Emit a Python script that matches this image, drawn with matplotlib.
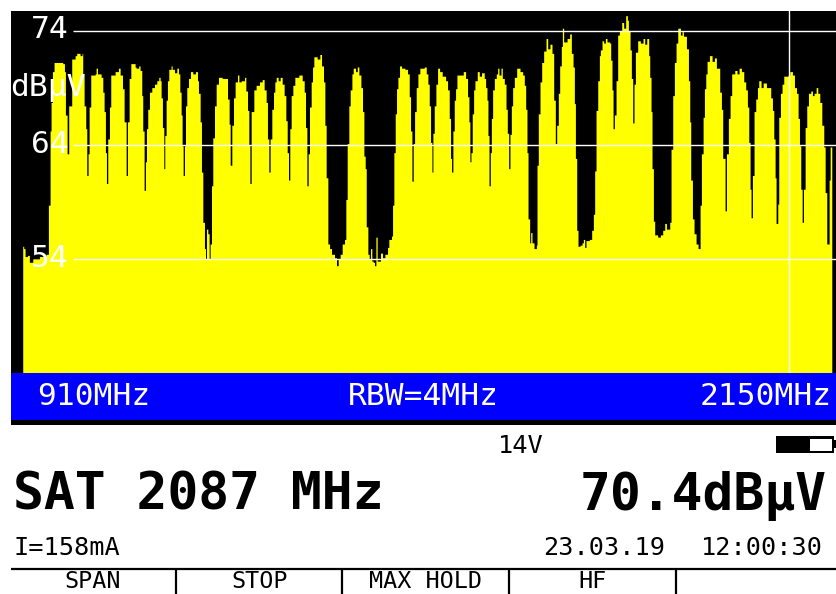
import matplotlib
matplotlib.use('Agg')
import matplotlib.pyplot as plt
from matplotlib.patches import Rectangle

# spectrum trace: MHz and dBuV
freq_mhz = [
    910.3, 911.8, 913.9, 917.5, 920.5, 925.7, 935.9, 946.1, 949.7, 952.3,
    953.8, 955.9, 958.4, 971.7, 974.3, 975.8, 978.4, 980.9, 985.5, 990.7,
    993.2, 998.3, 1001.4, 1002.4, 1004.5, 1007.0, 1008.6, 1010.6, 1012.2, 1014.7,
    1021.4, 1022.9, 1025.0, 1030.6, 1033.2, 1035.2, 1037.2, 1038.8, 1040.8, 1043.4,
    1045.4, 1052.1, 1057.2, 1059.8, 1063.4, 1065.9, 1069.0, 1071.0, 1073.6, 1076.2,
    1082.8, 1084.3, 1088.4, 1090.4, 1093.0, 1094.5, 1096.6, 1098.6, 1100.2, 1102.2,
    1104.8, 1108.4, 1112.5, 1116.0, 1119.1, 1121.2, 1122.7, 1124.7, 1126.8, 1128.3,
    1130.4, 1132.4, 1134.5, 1138.0, 1139.6, 1143.2, 1146.8, 1149.3, 1151.4, 1153.4,
    1154.9, 1156.5, 1158.5, 1160.1, 1162.1, 1164.7, 1167.7, 1171.3, 1175.4, 1178.5,
    1180.0, 1182.6, 1184.6, 1186.7, 1189.2, 1190.8, 1192.3, 1194.4, 1196.4, 1197.9,
    1200.0, 1202.0, 1204.6, 1207.2, 1210.7, 1216.4, 1221.5, 1224.6, 1227.1, 1228.7,
    1231.2, 1233.8, 1236.3, 1239.9, 1242.0, 1245.6, 1250.7, 1252.7, 1255.3, 1257.3,
    1258.9, 1260.9, 1265.0, 1268.5, 1273.7, 1277.8, 1280.8, 1283.9, 1285.9, 1288.0,
    1290.0, 1292.6, 1295.2, 1297.2, 1299.3, 1302.3, 1305.4, 1308.5, 1311.5, 1314.1,
    1316.2, 1318.2, 1320.2, 1322.3, 1324.9, 1327.9, 1334.1, 1339.2, 1342.3, 1344.3,
    1346.4, 1348.4, 1350.4, 1353.0, 1355.1, 1357.1, 1362.2, 1366.3, 1368.9, 1371.9,
    1374.0, 1376.0, 1378.6, 1381.2, 1384.2, 1388.8, 1391.9, 1394.5, 1397.5, 1400.6,
    1404.2, 1406.2, 1408.3, 1410.8, 1412.9, 1415.5, 1417.5, 1421.1, 1423.7, 1426.2,
    1429.3, 1431.8, 1433.9, 1435.9, 1437.5, 1440.0, 1442.0, 1444.1, 1446.1, 1448.2,
    1450.2, 1452.3, 1454.3, 1456.4, 1459.4, 1462.5, 1466.1, 1470.2, 1472.2, 1476.3,
    1477.9, 1479.9, 1482.0, 1484.0, 1486.1, 1488.6, 1491.7, 1496.8, 1500.9, 1503.5,
    1505.5, 1507.6, 1509.6, 1511.7, 1514.2, 1516.8, 1519.8, 1526.5, 1529.6, 1532.1,
    1534.2, 1536.2, 1538.3, 1539.8, 1541.9, 1544.4, 1547.0, 1550.1, 1554.1, 1559.3,
    1562.3, 1564.9, 1566.9, 1568.5, 1570.5, 1572.6, 1574.6, 1576.7, 1581.3, 1586.4,
    1590.0, 1593.0, 1595.1, 1596.6, 1598.2, 1600.2, 1602.3, 1604.3, 1607.9, 1611.0,
    1614.5, 1618.6, 1620.7, 1622.8, 1624.3, 1625.9, 1627.9, 1629.5, 1631.5, 1634.1,
    1637.1, 1639.2, 1641.2, 1644.3, 1646.3, 1649.4, 1652.0, 1654.0, 1656.1, 1658.1,
    1660.2, 1662.2, 1664.8, 1668.4, 1673.5, 1677.6, 1680.1, 1682.2, 1684.2, 1685.8,
    1688.3, 1689.9, 1691.9, 1695.0, 1698.6, 1699.6, 1701.6, 1704.2, 1706.8, 1709.8,
    1713.4, 1716.0, 1719.5, 1722.6, 1725.2, 1727.7, 1729.8, 1732.3, 1734.4, 1736.9,
    1738.5, 1740.5, 1745.7, 1749.7, 1752.3, 1754.9, 1756.9, 1758.5, 1760.5, 1762.5,
    1765.6, 1768.7, 1770.7, 1772.8, 1774.8, 1779.9, 1783.5, 1786.1, 1788.1, 1790.2,
    1792.8, 1795.3, 1796.8, 1799.4, 1801.9, 1804.5, 1807.0, 1811.1, 1812.7, 1814.7,
    1816.3, 1818.3, 1820.9, 1823.4, 1826.0, 1829.6, 1832.6, 1835.7, 1838.3, 1839.8,
    1842.4, 1844.4, 1846.5, 1848.5, 1850.6, 1854.1, 1858.2, 1862.3, 1864.9, 1868.0,
    1871.0, 1872.6, 1874.6, 1876.1, 1878.2, 1880.2, 1884.8, 1888.9, 1892.5, 1895.6,
    1898.2, 1903.3, 1905.3, 1907.9, 1910.4, 1913.0, 1915.6, 1919.7, 1922.2, 1924.3,
    1928.9, 1932.0, 1934.0, 1935.5, 1938.1, 1940.6, 1943.7, 1946.8, 1949.9, 1951.9,
    1954.5, 1956.5, 1958.6, 1960.6, 1964.2, 1968.3, 1971.9, 1974.9, 1976.4, 1980.0,
    1982.6, 1984.6, 1988.2, 1990.3, 1993.3, 1995.9, 1998.4, 2003.1, 2006.6, 2009.7,
    2013.3, 2016.9, 2019.9, 2022.5, 2024.6, 2026.6, 2028.1, 2030.2, 2032.7, 2035.3,
    2037.9, 2039.9, 2043.5, 2046.6, 2051.7, 2055.8, 2058.3, 2060.9, 2063.0, 2065.0,
    2066.5, 2069.1, 2070.6, 2073.2, 2075.7, 2078.3, 2085.0, 2087.5, 2091.6, 2094.7,
    2097.8, 2100.3, 2102.4, 2104.4, 2106.5, 2108.5, 2111.1, 2113.6, 2116.2, 2119.8,
    2122.3, 2124.9, 2128.0, 2130.5, 2133.6, 2136.7, 2139.7, 2141.8, 2144.3, 2147.9,
    2149.5, 2152.0,
]
level_dbuv = [
    55.1, 54.9, 54.2, 54.3, 53.7, 54.0, 54.2, 54.4, 58.7, 65.2,
    67.7, 70.4, 71.2, 71.1, 70.4, 66.6, 63.2, 67.4, 71.5, 71.8,
    72.0, 71.8, 72.0, 70.2, 67.4, 65.4, 61.3, 63.2, 67.3, 70.1,
    70.2, 70.7, 70.2, 69.9, 68.6, 66.9, 63.3, 60.6, 64.5, 67.3,
    70.1, 70.4, 70.7, 70.1, 68.9, 66.0, 61.3, 66.0, 69.8, 71.1,
    70.8, 70.7, 70.9, 70.5, 68.3, 65.2, 60.0, 62.5, 65.4, 67.1,
    68.6, 69.0, 69.3, 69.6, 69.9, 69.6, 68.1, 65.5, 61.9, 64.8,
    67.9, 69.6, 70.6, 70.9, 70.6, 70.3, 70.7, 70.2, 68.6, 66.6,
    63.9, 61.3, 63.9, 67.4, 69.0, 69.8, 70.4, 70.2, 70.4, 69.6,
    68.5, 66.0, 61.6, 57.2, 54.9, 54.0, 56.6, 56.2, 54.0, 55.3,
    60.4, 64.6, 67.4, 69.3, 69.9, 69.8, 69.8, 68.0, 65.8, 62.2,
    65.7, 68.1, 69.5, 70.1, 69.5, 69.6, 69.9, 68.7, 67.0, 64.0,
    60.6, 66.9, 68.8, 69.2, 69.5, 69.7, 68.8, 67.7, 64.5, 61.6,
    64.5, 67.1, 68.6, 69.5, 69.9, 69.6, 69.9, 69.3, 68.3, 66.1,
    63.3, 60.9, 65.4, 68.3, 69.2, 69.9, 70.1, 69.6, 68.6, 65.5,
    60.4, 63.2, 67.3, 69.5, 70.8, 71.7, 71.5, 71.9, 70.9, 69.5,
    65.7, 61.1, 55.3, 54.9, 54.4, 54.1, 53.4, 54.0, 54.4, 55.3,
    55.7, 59.2, 64.1, 67.4, 68.8, 70.2, 70.7, 70.4, 70.8, 70.1,
    69.0, 66.9, 63.0, 61.9, 56.8, 54.4, 54.0, 54.9, 53.8, 53.7,
    53.4, 55.9, 53.8, 53.8, 54.5, 54.1, 54.4, 55.0, 55.7, 56.0,
    58.7, 63.3, 66.7, 68.9, 69.9, 70.9, 70.7, 70.6, 70.2, 68.2,
    65.2, 60.8, 64.1, 66.9, 69.0, 70.2, 70.7, 70.8, 70.2, 69.3,
    67.4, 64.2, 61.6, 65.0, 67.4, 69.3, 70.7, 70.4, 70.0, 69.6,
    68.8, 66.3, 62.8, 61.6, 65.2, 67.9, 68.9, 70.1, 70.1, 70.4,
    69.8, 68.2, 66.0, 62.5, 63.3, 66.7, 68.8, 69.6, 70.4, 70.0,
    70.3, 69.8, 69.0, 67.9, 64.8, 60.4, 63.3, 66.3, 68.8, 69.8,
    70.2, 70.7, 70.1, 70.7, 69.8, 69.3, 67.1, 65.0, 61.9, 64.9,
    67.4, 69.0, 69.9, 70.7, 70.4, 70.1, 69.2, 67.1, 63.3, 57.5,
    55.4, 56.3, 55.4, 54.9, 55.2, 62.2, 66.7, 69.5, 71.2, 72.2,
    73.3, 72.4, 72.8, 72.0, 67.9, 64.1, 65.7, 68.5, 70.9, 72.6,
    74.2, 73.0, 73.3, 73.7, 72.0, 70.8, 67.6, 62.8, 56.5, 55.1,
    55.2, 55.4, 55.7, 55.0, 55.6, 55.7, 56.5, 57.9, 61.7, 67.0,
    69.6, 71.8, 72.3, 73.1, 72.9, 73.3, 73.0, 72.9, 71.4, 68.8,
    65.4, 66.6, 69.6, 73.6, 74.0, 74.7, 74.2, 75.3, 74.9, 74.0,
    72.3, 69.8, 65.9, 69.3, 72.1, 73.1, 72.9, 73.3, 72.8, 73.3,
    71.8, 69.9, 66.9, 61.9, 57.3, 56.1, 55.9, 56.1, 56.5, 57.1,
    56.6, 57.2, 63.6, 68.3, 71.2, 72.9, 74.2, 73.6, 73.9, 73.5,
    72.4, 69.6, 66.0, 60.9, 57.5, 56.2, 55.3, 54.9, 58.7, 63.2,
    66.4, 68.9, 70.2, 71.3, 71.8, 71.3, 71.6, 70.7, 70.7, 68.6,
    67.1, 62.8, 58.2, 63.2, 66.3, 68.3, 70.2, 70.5, 70.2, 70.7,
    70.4, 69.5, 68.8, 67.3, 64.2, 60.1, 57.6, 61.3, 66.9, 68.0,
    69.0, 69.6, 69.0, 69.4, 69.0, 69.0, 68.1, 67.0, 64.5, 61.1,
    57.1, 58.8, 66.4, 68.5, 69.3, 70.0, 70.1, 70.4, 70.1, 69.0,
    68.5, 66.3, 63.9, 60.1, 57.2, 60.1, 65.5, 67.4, 68.5, 68.7,
    68.3, 68.5, 69.0, 68.5, 67.7, 65.7, 63.8, 59.8, 55.3, 60.9,
    63.8, 63.8,
]
grid_levels = [74, 64, 54]
grid_labels = ['74', '64', '54']
marker_mhz = 2087
softkeys = ['SPAN', 'STOP', 'MAX HOLD', 'HF']

MONO = 'DejaVu Sans Mono'

fig = plt.figure(figsize=(8.37, 5.94), dpi=100, facecolor='white')

# spectrum window, pixel box x 11-837, y 11-373
ax = fig.add_axes([11 / 837, 1 - 373 / 594, 826 / 837, 362 / 594], zorder=1)
ax.set_facecolor('black')
ax.set_xlim(892.3, 2160)
ax.set_ylim(44, 75.71)
ax.set_xticks([])
ax.set_yticks([])
for s in ax.spines.values():
    s.set_visible(False)

ax.fill_between(freq_mhz, level_dbuv, 44, step='post', color='#ffff00', linewidth=0)
ax.hlines(grid_levels, 987.5, 2160, color='white', linewidth=1.0)
ax.axvline(marker_mhz, color='white', linewidth=1.0)

# everything else sits on a full figure overlay in pixel coordinates
ov = fig.add_axes([0, 0, 1, 1], zorder=2)
ov.set_xlim(0, 837)
ov.set_ylim(594, 0)
ov.axis('off')
ov.patch.set_visible(False)

ov.add_patch(Rectangle((11, 373), 826, 47, color='#0000ff', linewidth=0))
ov.add_patch(Rectangle((11, 420), 826, 4.5, color='black', linewidth=0))

big = 22.5
for lab, y in zip(grid_labels, [38, 153, 267]):
    ov.text(31, y, lab, color='white', fontsize=big, family=MONO, va='baseline')
ov.text(10, 96, 'dBµV', color='white', fontsize=big, family=MONO, va='baseline')

ov.text(37, 405, '910MHz', color='white', fontsize=big, family=MONO, va='baseline')
ov.text(348, 405, 'RBW=4MHz', color='white', fontsize=big, family=MONO, va='baseline')
ov.text(700, 405, '2150MHz', color='white', fontsize=big, family=MONO, va='baseline')

# status area
small = 18.2
ov.text(498, 453, '14V', color='black', fontsize=small, family=MONO, va='baseline')
ov.text(13, 510, 'SAT 2087 MHz', color='black', fontsize=37, family=MONO,
        weight='bold', va='baseline')
ov.text(827, 510, '70.4dBµV', color='black', fontsize=37, family=MONO,
        weight='bold', va='baseline', ha='right')
ov.text(14, 555, 'I=158mA', color='black', fontsize=small, family=MONO, va='baseline')
ov.text(543, 555, '23.03.19', color='black', fontsize=small, family=MONO, va='baseline')
ov.text(701, 555, '12:00:30', color='black', fontsize=small, family=MONO, va='baseline')

# battery
ov.add_patch(Rectangle((776, 436), 58, 17, color='black', linewidth=0))
ov.add_patch(Rectangle((810, 438.5), 22, 12, color='white', linewidth=0))
ov.add_patch(Rectangle((834, 440), 3, 8, color='black', linewidth=0))

# soft keys
ov.hlines(568.5, 11, 837, color='black', linewidth=1.6)
ov.vlines([176, 342, 509, 676], 568, 594, color='black', linewidth=1.6)
for lab, x in zip(softkeys, [93, 259.5, 426, 592.5]):
    ov.text(x, 588.2, lab, color='black', fontsize=16.8, family=MONO,
            ha='center', va='baseline')

fig.savefig('out.png', dpi=100)
plt.close(fig)
